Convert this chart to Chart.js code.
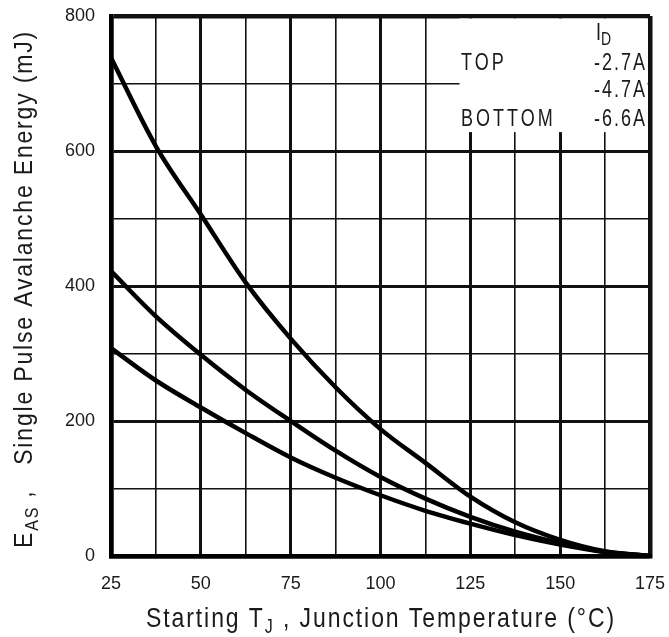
<!DOCTYPE html>
<html>
<head>
<meta charset="utf-8">
<script src="https://cdn.jsdelivr.net/npm/chart.js@4"></script>
<style>
  html, body { margin: 0; padding: 0; background: #fff; }
  #wrap { width: 669px; height: 637px; }
</style>
</head>
<body>
<div id="wrap"><canvas id="myChart" width="669" height="637"></canvas></div>
<script>
// temperatures (°C)
const temps = [25, 37.5, 50, 62.5, 75, 87.5, 100, 112.5, 125, 137.5, 150, 162.5, 175];
// avalanche energy (mJ) per drain current
const eas27 = [738, 607, 506, 405, 322, 250, 188, 138, 88, 50, 24, 7, 0];
const eas47 = [422, 355, 298, 246, 200, 156, 117, 85, 58, 36, 19, 6, 0];
const eas66 = [308, 260, 220, 182, 146, 116, 90, 67, 48, 31, 17, 6, 0];
const xTickLabels = [25, 50, 75, 100, 125, 150, 175];
const yTickLabels = [0, 200, 400, 600, 800];
const legendRows = [['TOP', '-2.7A'], ['', '-4.7A'], ['BOTTOM', '-6.6A']];

const FONT = '"Liberation Sans", Arial, sans-serif';
const TXT = '#1a1a1a';

function pts(ys) {
    return temps.map((t, i) => ({ x: t, y: ys[i] }));
}

// draw text made of [text, isSub] parts, centred on x=0, baseline y=0,
// spread out to the wanted width and stretched upward
function drawParts(ctx, parts, size, width, stretch) {
    const subSize = Math.round(size * 0.7);
    let natural = 0, chars = 0;
    parts.forEach(p => {
        ctx.font = (p[1] ? subSize : size) + 'px ' + FONT;
        ctx.letterSpacing = '0px';
        natural += ctx.measureText(p[0]).width;
        chars += p[0].length;
    });
    const sp = (width - natural) / chars;
    ctx.save();
    ctx.scale(1, stretch);
    let x = -width / 2;
    parts.forEach(p => {
        ctx.font = (p[1] ? subSize : size) + 'px ' + FONT;
        ctx.letterSpacing = sp + 'px';
        ctx.fillText(p[0], x, p[1] ? size * 0.22 : 0);
        x += ctx.measureText(p[0]).width;
    });
    ctx.restore();
    ctx.letterSpacing = '0px';
}

function stretchedText(ctx, text, x, y, align, spacing) {
    ctx.save();
    ctx.translate(x, y);
    ctx.scale(1, 1.3);
    ctx.textAlign = align;
    ctx.letterSpacing = spacing + 'px';
    ctx.fillText(text, align === 'right' ? spacing : 0, 0);
    ctx.restore();
}

// keep tick label overflow from pushing the plot area around
function noScalePadding(scale) {
    scale.paddingTop = 0;
    scale.paddingBottom = 0;
    scale.paddingLeft = 0;
    scale.paddingRight = 0;
}

const overlay = {
    id: 'overlay',
    beforeDatasetsDraw(chart) {
        const ctx = chart.ctx;
        const xs = chart.scales.x, ys = chart.scales.y;
        ctx.save();
        // legend box over the grid
        const bx = xs.getPixelForValue(122);
        const by = ys.getPixelForValue(800) + 2.5;
        const bw = xs.right - 2.5 - bx;
        const bh = ys.getPixelForValue(628) - by;
        ctx.fillStyle = '#fff';
        ctx.fillRect(bx, by, bw, bh);
        ctx.fillStyle = TXT;
        ctx.textBaseline = 'alphabetic';
        ctx.font = '18px ' + FONT;
        stretchedText(ctx, 'I', 596, 40, 'left', 0);
        ctx.font = '14px ' + FONT;
        stretchedText(ctx, 'D', 601, 45, 'left', 0);
        ctx.font = '18px ' + FONT;
        const rowY = [70, 97, 126];
        legendRows.forEach((r, i) => {
            stretchedText(ctx, r[0], 461, rowY[i], 'left', 3);
            stretchedText(ctx, r[1], 645, rowY[i], 'right', 2);
        });
        ctx.restore();
    },
    afterDraw(chart) {
        const ctx = chart.ctx;
        ctx.save();
        ctx.fillStyle = TXT;
        ctx.textBaseline = 'alphabetic';
        ctx.textAlign = 'left';
        // x title
        ctx.save();
        ctx.translate(381, 627);
        drawParts(ctx, [['Starting T', false], ['J', true], [' , Junction Temperature (°C)', false]], 23, 470, 1.22);
        ctx.restore();
        // y title
        ctx.save();
        ctx.translate(32, 289);
        ctx.rotate(-Math.PI / 2);
        drawParts(ctx, [['E', false], ['AS', true], [' ,   Single Pulse Avalanche Energy (mJ)', false]], 23, 518, 1.15);
        ctx.restore();
        ctx.restore();
    }
};

const ctx = document.getElementById('myChart').getContext('2d');
const myChart = new Chart(ctx, {
    type: 'line',
    data: {
        datasets: [
            { label: '-2.7A', data: pts(eas27) },
            { label: '-4.7A', data: pts(eas47) },
            { label: '-6.6A', data: pts(eas66) }
        ].map(d => Object.assign(d, {
            borderColor: '#000',
            borderWidth: 4.5,
            pointRadius: 0,
            fill: false,
            cubicInterpolationMode: 'monotone'
        }))
    },
    options: {
        responsive: false,
        animation: false,
        layout: { autoPadding: false, padding: { left: 0, right: 19, top: 16, bottom: 0 } },
        plugins: { legend: { display: false }, tooltip: { enabled: false } },
        scales: {
            x: {
                type: 'linear',
                min: 25,
                max: 175,
                afterFit(scale) { scale.height = 81; noScalePadding(scale); },
                afterBuildTicks(scale) {
                    scale.ticks = temps.map(v => ({ value: v }));
                },
                ticks: {
                    autoSkip: false,
                    maxRotation: 0,
                    padding: 17,
                    color: TXT,
                    font: { family: FONT, size: 18 },
                    callback: v => xTickLabels.includes(v) ? String(v) : ''
                },
                grid: {
                    color: '#111',
                    drawTicks: false,
                    lineWidth: c => {
                        const v = c.tick ? c.tick.value : 0;
                        if (v === 25 || v === 175) return 4.5;
                        return v % 25 === 0 ? 3 : 1.6;
                    }
                },
                border: { color: '#000', width: 4.5 }
            },
            y: {
                min: 0,
                max: 800,
                afterFit(scale) { scale.width = 111; noScalePadding(scale); },
                ticks: {
                    stepSize: 100,
                    padding: 16,
                    color: TXT,
                    font: { family: FONT, size: 18 },
                    callback: v => yTickLabels.includes(v) ? String(v) : ''
                },
                grid: {
                    color: '#111',
                    drawTicks: false,
                    lineWidth: c => {
                        const v = c.tick ? c.tick.value : 0;
                        if (v === 0 || v === 800) return 4.5;
                        return v % 200 === 0 ? 3 : 1.6;
                    }
                },
                border: { color: '#000', width: 4.5 }
            }
        }
    },
    plugins: [overlay]
});
</script>
</body>
</html>
